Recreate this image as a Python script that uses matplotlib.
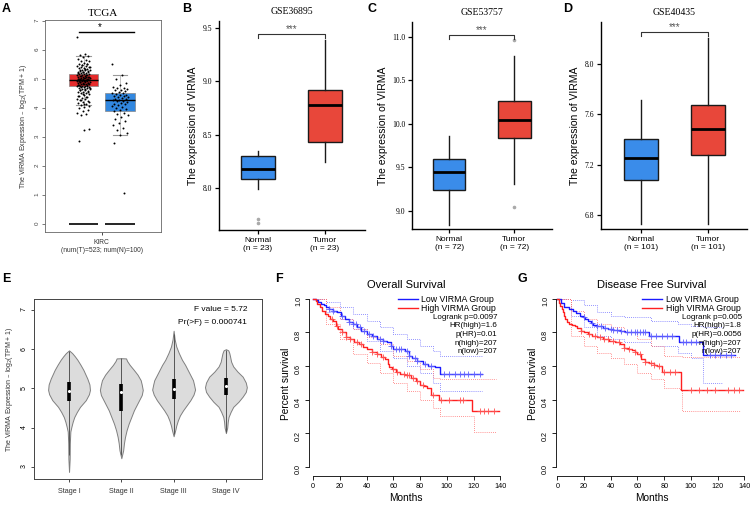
import numpy as np
import matplotlib.pyplot as plt
from matplotlib.lines import Line2D

plt.rcParams['font.family'] = ['Liberation Sans', 'DejaVu Sans']

# ---------------- data ----------------
# A: TCGA KIRC (whislo, q1, med, q3, whishi)
tcga_tumor_box = [4.10, 4.75, 4.95, 5.18, 5.80]
tcga_normal_box = [3.07, 3.88, 4.27, 4.52, 5.15]
tcga_tumor_pts = [6.45, 5.85, 5.82, 5.78, 5.74, 5.7, 5.66, 5.62, 5.6, 5.56, 5.53, 5.5,
                  5.48, 5.46, 5.44, 5.42, 5.4, 5.38, 5.36, 5.34, 5.32, 5.3, 5.29, 5.27,
                  5.25, 5.24, 5.22, 5.21, 5.2, 5.18, 5.17, 5.16, 5.15, 5.13, 5.12, 5.11,
                  5.1, 5.08, 5.07, 5.06, 5.05, 5.04, 5.03, 5.02, 5.01, 5.0, 4.99, 4.98,
                  4.97, 4.96, 4.95, 4.94, 4.93, 4.92, 4.91, 4.9, 4.89, 4.88, 4.87, 4.86,
                  4.85, 4.84, 4.83, 4.82, 4.81, 4.8, 4.78, 4.77, 4.76, 4.75, 4.74, 4.72,
                  4.71, 4.7, 4.68, 4.66, 4.64, 4.62, 4.6, 4.58, 4.56, 4.54, 4.52, 4.5,
                  4.47, 4.44, 4.41, 4.38, 4.35, 4.32, 4.29, 4.26, 4.23, 4.2, 4.17, 4.14,
                  4.1, 4.06, 4.02, 3.98, 3.93, 3.88, 3.84, 3.8, 3.74, 3.26, 3.25, 2.87,
                  5.52, 5.47, 5.41, 5.35, 5.31, 5.26, 5.23, 5.19, 5.14, 5.09, 5.06, 5.03,
                  5.0, 4.98, 4.96, 4.94, 4.92, 4.9, 4.87, 4.84, 4.8, 4.77, 4.73, 4.69,
                  4.65, 4.6, 4.55, 4.48, 4.42, 4.36, 4.28, 4.2, 4.12]
tcga_normal_pts = [5.52, 5.15, 5.0, 4.85, 4.78, 4.72, 4.7, 4.68, 4.65, 4.62, 4.6, 4.58,
                   4.55, 4.52, 4.5, 4.48, 4.46, 4.44, 4.42, 4.4, 4.38, 4.36, 4.34, 4.32,
                   4.3, 4.28, 4.26, 4.24, 4.22, 4.2, 4.18, 4.15, 4.12, 4.1, 4.07, 4.04,
                   4.0, 3.96, 3.92, 3.88, 3.84, 3.8, 3.75, 3.7, 3.62, 3.55, 3.48, 3.4,
                   3.32, 3.25, 3.15, 3.08, 2.8, 1.07]

# B-D: GEO datasets (whislo, q1, med, q3, whishi)
gse36895_normal = [7.99, 8.09, 8.18, 8.30, 8.35]
gse36895_tumor = [8.25, 8.43, 8.78, 8.92, 9.39]
gse36895_out = [[7.68, 7.71], []]
gse53757_normal = [8.84, 9.24, 9.44, 9.59, 9.86]
gse53757_tumor = [9.31, 9.84, 10.04, 10.26, 10.78]
gse53757_out = [[], [10.96, 9.04]]
gse40435_normal = [6.73, 7.08, 7.25, 7.40, 7.71]
gse40435_tumor = [6.73, 7.28, 7.48, 7.67, 8.20]
gse40435_out = [[], []]

# E: stage violins (level, half width)
stages = ['Stage I', 'Stage II', 'Stage III', 'Stage IV']
s1_y = [2.87, 3.2, 3.6, 3.9, 4.02, 4.15, 4.27, 4.4, 4.53, 4.7, 4.85, 4.96, 5.1, 5.25,
        5.47, 5.6, 5.73, 5.82, 5.9, 5.97]
s1_w = [0.0, 0.012, 0.015, 0.025, 0.045, 0.07, 0.1, 0.15, 0.21, 0.32, 0.38, 0.40, 0.39,
        0.35, 0.275, 0.22, 0.16, 0.11, 0.06, 0.0]
s2_y = [3.22, 3.42, 3.6, 3.76, 3.93, 4.1, 4.27, 4.44, 4.57, 4.7, 4.83, 4.96, 5.1, 5.21,
        5.35, 5.47, 5.6, 5.7, 5.765, 5.77]
s2_w = [0.0, 0.035, 0.05, 0.07, 0.1, 0.14, 0.19, 0.24, 0.29, 0.34, 0.39, 0.41, 0.39,
        0.37, 0.31, 0.24, 0.16, 0.11, 0.09, 0.0]
s3_y = [3.78, 3.93, 4.05, 4.18, 4.31, 4.44, 4.57, 4.7, 4.84, 4.97, 5.1, 5.21, 5.34,
        5.47, 5.6, 5.73, 5.9, 6.07, 6.25, 6.47]
s3_w = [0.0, 0.03, 0.05, 0.08, 0.12, 0.18, 0.25, 0.32, 0.38, 0.41, 0.39, 0.37, 0.32,
        0.27, 0.22, 0.16, 0.1, 0.05, 0.02, 0.0]
s4_y = [3.86, 4.0, 4.15, 4.27, 4.4, 4.53, 4.66, 4.79, 4.91, 5.03, 5.15, 5.3, 5.43,
        5.56, 5.68, 5.81, 5.9, 5.97, 6.0]
s4_w = [0.0, 0.025, 0.035, 0.05, 0.09, 0.14, 0.24, 0.32, 0.38, 0.40, 0.38, 0.32, 0.22,
        0.14, 0.1, 0.08, 0.065, 0.045, 0.0]
stage_box = [[3.3, 4.68, 4.94, 5.17, 5.95],
             [3.3, 4.42, 4.90, 5.11, 5.77],
             [3.85, 4.74, 4.98, 5.24, 6.4],
             [3.9, 4.83, 5.05, 5.26, 5.97]]
f_value = 'F value = 5.72'
pr_value = 'Pr(>F) = 0.000741'

# F: overall survival
os_low_t = [0, 2, 4, 6, 8, 10, 12, 15, 18, 21, 24, 27, 30, 33, 36, 40, 44, 48, 52, 55,
            58, 60, 69, 72, 74, 78, 82, 86, 91, 95, 126]
os_low_s = [1, 0.99, 0.98, 0.97, 0.96, 0.95, 0.94, 0.93, 0.92, 0.90, 0.88, 0.86, 0.85,
            0.83, 0.81, 0.79, 0.78, 0.76, 0.75, 0.74, 0.72, 0.70, 0.69, 0.66, 0.645,
            0.63, 0.61, 0.60, 0.595, 0.55, 0.55]
os_high_t = [0, 2, 3, 5, 7, 9, 11, 13, 15, 17, 19, 22, 25, 28, 31, 34, 37, 40, 44, 48,
             51, 54, 56, 57, 59, 62, 65, 69, 73, 77, 80, 83, 85, 88, 94, 119, 139]
os_high_s = [1, 0.985, 0.97, 0.95, 0.93, 0.91, 0.895, 0.88, 0.865, 0.84, 0.82, 0.80,
             0.775, 0.76, 0.745, 0.73, 0.715, 0.70, 0.685, 0.67, 0.655, 0.64, 0.61,
             0.595, 0.58, 0.565, 0.555, 0.545, 0.53, 0.51, 0.49, 0.48, 0.47, 0.43,
             0.40, 0.335, 0.335]
os_low_ci_t = [0, 10, 20, 30, 40, 50, 60, 70, 80, 90, 95, 126]
os_low_hi = [1, 0.98, 0.95, 0.91, 0.87, 0.83, 0.79, 0.76, 0.72, 0.69, 0.66, 0.66]
os_low_lo = [1, 0.92, 0.88, 0.82, 0.75, 0.69, 0.65, 0.60, 0.56, 0.50, 0.45, 0.45]
os_high_ci_t = [0, 10, 20, 30, 40, 50, 60, 70, 80, 90, 95, 119, 120, 137]
os_high_hi = [1, 0.95, 0.88, 0.82, 0.77, 0.73, 0.66, 0.63, 0.58, 0.53, 0.52, 0.52, 0.52, 0.52]
os_high_lo = [1, 0.85, 0.76, 0.67, 0.62, 0.56, 0.50, 0.45, 0.40, 0.35, 0.30, 0.30, 0.21, 0.21]
os_low_cens = [12, 15, 22, 27, 30, 32, 35, 38, 42, 45, 50, 52, 58, 62, 64, 66, 70, 72,
               76, 78, 84, 88, 98, 102, 106, 110, 113, 116, 120, 125]
os_high_cens = [14, 18, 22, 25, 28, 33, 36, 44, 48, 52, 60, 63, 68, 70, 72, 75, 78, 82,
                90, 96, 102, 110, 112, 125, 128, 131, 135]
os_stats = ['Logrank p=0.0097', 'HR(high)=1.6', 'p(HR)=0.01', 'n(high)=207', 'n(low)=207']

# G: disease free survival
dfs_low_t = [0, 2.5, 5, 8.7, 12, 14, 17, 19, 21, 23, 25, 27, 30, 34, 38, 42, 47, 51,
             69, 91, 109, 133]
dfs_low_s = [1, 0.976, 0.95, 0.937, 0.925, 0.915, 0.90, 0.89, 0.877, 0.865, 0.853,
             0.841, 0.835, 0.827, 0.82, 0.815, 0.808, 0.80, 0.78, 0.745, 0.663, 0.663]
dfs_high_t = [0, 1.2, 2, 3.2, 4, 5, 6, 7.5, 9, 11, 13, 15, 18, 20, 23, 26, 30, 34, 38.5,
              43, 47, 50, 53, 56, 58, 60, 63, 66, 68.4, 72, 74.6, 78, 92.5, 139]
dfs_high_s = [1, 0.976, 0.957, 0.937, 0.92, 0.897, 0.88, 0.861, 0.85, 0.841, 0.835,
              0.827, 0.81, 0.80, 0.79, 0.78, 0.77, 0.762, 0.748, 0.74, 0.728, 0.708,
              0.70, 0.698, 0.685, 0.669, 0.639, 0.625, 0.619, 0.605, 0.599, 0.563,
              0.46, 0.46]
dfs_low_ci_t = [0, 10, 20, 30, 40, 50, 70, 90, 100, 109, 124]
dfs_low_hi = [1, 0.99, 0.96, 0.92, 0.90, 0.89, 0.87, 0.85, 0.84, 0.83, 0.83]
dfs_low_lo = [1, 0.90, 0.83, 0.78, 0.76, 0.74, 0.72, 0.68, 0.65, 0.50, 0.50]
dfs_high_ci_t = [0, 10, 20, 30, 40, 50, 60, 70, 80, 92, 93, 137]
dfs_high_hi = [1, 0.93, 0.88, 0.85, 0.83, 0.80, 0.76, 0.72, 0.66, 0.66, 0.655, 0.655]
dfs_high_lo = [1, 0.78, 0.72, 0.68, 0.65, 0.61, 0.56, 0.52, 0.47, 0.46, 0.33, 0.33]
dfs_low_cens = [20, 26, 30, 33, 36, 40, 42, 45, 48, 52, 55, 58, 60, 62, 64, 66, 70, 74,
                78, 82, 86, 94, 96, 100, 104, 114, 118, 122, 126, 130]
dfs_high_cens = [18, 24, 28, 32, 35, 38, 42, 46, 50, 54, 58, 62, 66, 70, 72, 76, 80, 84,
                 88, 100, 106, 112, 118, 128, 132, 136]
dfs_stats = ['Logrank p=0.005', 'HR(high)=1.8', 'p(HR)=0.0056', 'n(high)=207', 'n(low)=207']

# ---------------- figure ----------------
W, H = 754, 509
fig = plt.figure(figsize=(W / 100, H / 100), dpi=100)


def px_axes(l, t, r, b):
    return fig.add_axes([l / W, 1 - b / H, (r - l) / W, (b - t) / H])


def to_stats(box, fliers=()):
    return dict(whislo=box[0], q1=box[1], med=box[2], q3=box[3], whishi=box[4],
                fliers=list(fliers))


def letter(x, y, s):
    fig.text(x / W, 1 - y / H, s, fontsize=9, fontweight='bold', va='center', ha='left')


RED = '#e8473a'
BLUE = '#3a8cea'

# ---- A ----
ax = px_axes(45, 20, 161, 232)
bp = ax.bxp([to_stats(tcga_tumor_box), to_stats(tcga_normal_box)], positions=[1, 2],
            widths=0.8, capwidths=0.4, patch_artist=True, showfliers=False,
            boxprops=dict(edgecolor='#888888', lw=0.5),
            medianprops=dict(color='black', lw=1.0),
            whiskerprops=dict(color='#aaaaaa', lw=0.5),
            capprops=dict(color='#999999', lw=0.8))
bp['boxes'][0].set_facecolor('#e52b2b')
bp['boxes'][1].set_facecolor('#3288e0')
for pos in [1, 2]:
    ax.hlines(0, pos - 0.4, pos + 0.4, color='black', lw=1.2)
for pos, pts, spread in [(1, tcga_tumor_pts, 0.36), (2, tcga_normal_pts, 0.45)]:
    n = len(pts)
    off = ((np.arange(n) * 0.618034) % 1 - 0.5) * spread
    ax.scatter(pos + off, pts, s=2.0, color='black', lw=0, zorder=4)
ax.plot([0.88, 2.38], [6.6, 6.6], color='black', lw=1.0)
ax.text(1.45, 6.62, '*', ha='center', va='bottom', fontsize=7)
ax.set_xlim(-0.055, 3.12)
ax.set_ylim(-0.28, 7.03)
ax.set_yticks(range(0, 8))
ax.tick_params(axis='y', labelsize=4.5, labelrotation=90, length=2, width=0.5,
               colors='#444444', pad=2)
ax.set_xticks([1.5])
ax.set_xticklabels(['KIRC\n(num(T)=523; num(N)=100)'], fontsize=4.8, color='#333333')
ax.tick_params(axis='x', length=2, width=0.5, pad=3)
for sp in ax.spines.values():
    sp.set_color('#666666')
    sp.set_linewidth(0.6)
ax.set_ylabel('The VIRMA Expression – log$_2$(TPM + 1)', fontsize=5, color='#333333',
              labelpad=4)
ax.set_title('TCGA', fontsize=8, family='Liberation Serif', pad=3)
letter(2, 9, 'A')


# ---- B, C, D ----
def expr_panel(rect, title, normal, tumor, outl, xlabels, ylim, yticks, sig_y, sig_d, xlim):
    ax = px_axes(*rect)
    bp = ax.bxp([to_stats(normal, outl[0]), to_stats(tumor, outl[1])], positions=[1, 2],
                widths=0.5, patch_artist=True, showcaps=False,
                boxprops=dict(edgecolor='#1a1a1a', lw=1.0),
                medianprops=dict(color='black', lw=2.0),
                whiskerprops=dict(color='#1a1a1a', lw=1.0),
                flierprops=dict(marker='o', markersize=1.6, markerfacecolor='#aaaaaa',
                                markeredgecolor='#aaaaaa'))
    bp['boxes'][0].set_facecolor(BLUE)
    bp['boxes'][1].set_facecolor(RED)
    ax.plot([1, 1, 2, 2], [sig_y - sig_d, sig_y, sig_y, sig_y - sig_d], color='#333333',
            lw=0.8)
    ax.text(1.5, sig_y, '***', ha='center', va='bottom', fontsize=7, color='#555555')
    ax.set_xlim(*xlim)
    ax.set_ylim(*ylim)
    ax.set_yticks(yticks)
    ax.set_yticklabels([f'{v:.1f}' for v in yticks], family='Liberation Serif',
                       fontsize=5.5)
    ax.set_xticks([1, 2])
    ax.set_xticklabels(xlabels, fontsize=6)
    ax.tick_params(length=3, width=0.9, pad=2)
    ax.spines['top'].set_visible(False)
    ax.spines['right'].set_visible(False)
    ax.spines['left'].set_linewidth(1.0)
    ax.spines['bottom'].set_linewidth(1.0)
    ax.set_ylabel('The expression of VIRMA', fontsize=7.5, labelpad=3)
    ax.set_title(title, fontsize=7, family='Liberation Serif', pad=5)
    return ax


expr_panel((219, 21, 365, 230), 'GSE36895', gse36895_normal, gse36895_tumor, gse36895_out,
           ['Normal\n(n = 23)', 'Tumor\n(n = 23)'], (7.61, 9.565), [8.0, 8.5, 9.0, 9.5],
           9.44, 0.03, (0.42, 2.6))
letter(182, 9, 'B')
expr_panel((412, 22, 552, 229), 'GSE53757', gse53757_normal, gse53757_tumor, gse53757_out,
           ['Normal\n(n = 72)', 'Tumor\n(n = 72)'], (8.79, 11.17),
           [9.0, 9.5, 10.0, 10.5, 11.0], 11.02, 0.04, (0.43, 2.58))
letter(367, 9, 'C')
expr_panel((601, 22, 747, 229), 'GSE40435', gse40435_normal, gse40435_tumor, gse40435_out,
           ['Normal\n(n = 101)', 'Tumor\n(n = 101)'], (6.69, 8.33), [6.8, 7.2, 7.6, 8.0],
           8.25, 0.03, (0.4, 2.58))
letter(563, 9, 'D')

# ---- E ----
ax = px_axes(34, 299, 262, 479)
profiles = [(s1_y, s1_w), (s2_y, s2_w), (s3_y, s3_w), (s4_y, s4_w)]
for i, ((yy, ww), bx) in enumerate(zip(profiles, stage_box)):
    pos = i + 1
    yy = np.array(yy)
    ww = np.array(ww)
    ax.fill_betweenx(yy, pos - ww, pos + ww, facecolor='#dcdcdc', edgecolor='#7f7f7f',
                     lw=0.7)
    ax.vlines(pos, bx[0], bx[4], color='#555555', lw=0.7)
    ax.vlines(pos, bx[1], bx[3], color='black', lw=2.6)
    ax.scatter([pos], [bx[2]], s=5, color='white', zorder=5, lw=0)
ax.text(0.935, 0.94, f_value, transform=ax.transAxes, ha='right', va='center', fontsize=6)
ax.text(0.935, 0.872, pr_value, transform=ax.transAxes, ha='right', va='center',
        fontsize=6)
ax.set_xlim(0.33, 4.69)
ax.set_ylim(2.69, 7.28)
ax.set_xticks([1, 2, 3, 4])
ax.set_xticklabels(stages, fontsize=5.2, color='#333333')
ax.set_yticks([3, 4, 5, 6, 7])
ax.tick_params(axis='y', labelsize=5, labelrotation=90, length=2.5, width=0.5, pad=2)
ax.tick_params(axis='x', length=2.5, width=0.5, pad=4)
for sp in ax.spines.values():
    sp.set_color('#444444')
    sp.set_linewidth(0.7)
ax.set_ylabel('The VIRMA Expression – log$_2$(TPM + 1)', fontsize=5, color='#333333',
              labelpad=4)
letter(2, 279, 'E')


# ---- F, G ----
def surv_panel(rect, xlim, title, low_t, low_s, high_t, high_s, lci_t, lhi, llo,
               hci_t, hhi, hlo, lcens, hcens, stats):
    ax = px_axes(*rect)
    for t, hi, lo, c in [(lci_t, lhi, llo, '#7070ff'), (hci_t, hhi, hlo, '#ff7070')]:
        ax.step(t, hi, where='post', color=c, lw=0.6, ls=(0, (1, 1.5)))
        ax.step(t, lo, where='post', color=c, lw=0.6, ls=(0, (1, 1.5)))
    ax.step(low_t, low_s, where='post', color='#1a1aff', lw=1.0)
    ax.step(high_t, high_s, where='post', color='#ff2020', lw=1.0)
    for t, s, cens, c in [(low_t, low_s, lcens, '#6060ff'), (high_t, high_s, hcens, '#ff5050')]:
        idx = np.searchsorted(t, cens, side='right') - 1
        ax.scatter(cens, np.array(s)[idx], marker='+', s=14, color=c, lw=0.6, zorder=4)
    handles = [Line2D([], [], color='#1a1aff', lw=1.0), Line2D([], [], color='#ff2020', lw=1.0)]
    ax.legend(handles, ['Low VIRMA Group', 'High VIRMA Group'], loc='upper right',
              bbox_to_anchor=(0.965, 0.985), frameon=False, fontsize=6.3, handlelength=2.3,
              handletextpad=0.4, labelspacing=0.05, borderpad=0, borderaxespad=0)
    for k, s in enumerate(stats):
        ax.text(0.972, 0.862 - k * 0.0465, s, transform=ax.transAxes, ha='right',
                va='center', fontsize=5.8)
    ax.set_xlim(*xlim)
    ax.set_ylim(-0.054, 1.04)
    ax.set_xticks(range(0, 141, 20))
    ax.set_yticks([0.0, 0.2, 0.4, 0.6, 0.8, 1.0])
    ax.set_yticklabels(['0.0', '0.2', '0.4', '0.6', '0.8', '1.0'])
    ax.tick_params(labelsize=5.2, length=3, width=0.6, pad=2)
    ax.tick_params(axis='y', labelrotation=90)
    ax.spines['top'].set_visible(False)
    ax.spines['right'].set_visible(False)
    ax.spines['left'].set_bounds(0, 1)
    ax.spines['bottom'].set_bounds(0, 140)
    ax.spines['left'].set_linewidth(0.6)
    ax.spines['bottom'].set_linewidth(0.6)
    ax.set_xlabel('Months', fontsize=7.3, labelpad=2)
    ax.set_ylabel('Percent survival', fontsize=7.3, labelpad=3)
    ax.set_title(title, fontsize=8, pad=3)
    return ax


surv_panel((309, 292, 503, 476), (-3, 142), 'Overall Survival', os_low_t, os_low_s,
           os_high_t, os_high_s, os_low_ci_t, os_low_hi, os_low_lo, os_high_ci_t,
           os_high_hi, os_high_lo, os_low_cens, os_high_cens, os_stats)
letter(275, 279, 'F')
surv_panel((556, 292, 747, 476), (-1, 142), 'Disease Free Survival', dfs_low_t, dfs_low_s,
           dfs_high_t, dfs_high_s, dfs_low_ci_t, dfs_low_hi, dfs_low_lo, dfs_high_ci_t,
           dfs_high_hi, dfs_high_lo, dfs_low_cens, dfs_high_cens, dfs_stats)
letter(518, 279, 'G')

fig.savefig('out.png', dpi=100)
